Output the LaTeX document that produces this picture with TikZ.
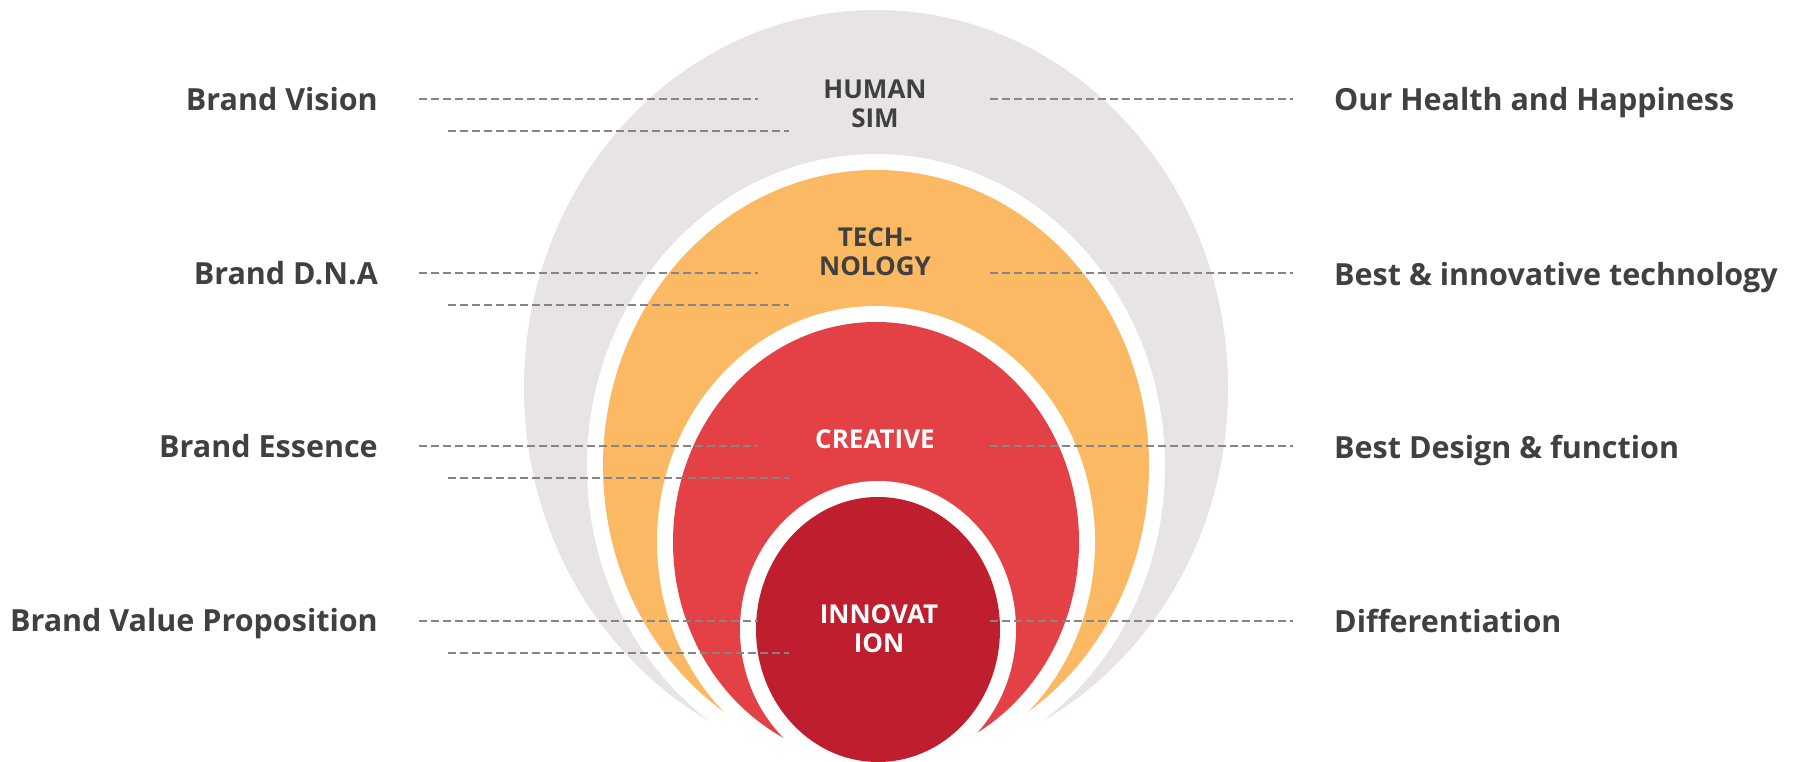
\documentclass[tikz,border=0pt]{standalone}
\usepackage{fontspec}
\setmainfont{Open Sans}
\definecolor{cgray}{HTML}{E7E4E3}
\definecolor{corange}{HTML}{FBB963}
\definecolor{cred}{HTML}{E44146}
\definecolor{cdark}{HTML}{BE1E2D}
\definecolor{ctext}{HTML}{404040}
\definecolor{cdash}{HTML}{858585}
\tikzset{
  sidelabel/.style={font=\fontsize{30.5}{34}\selectfont\bfseries, text=ctext, inner sep=0pt},
  ringlabel/.style={font=\fontsize{26}{29}\selectfont\bfseries, align=center, inner sep=0pt},
  guide/.style={draw=cdash, line width=2pt, dash pattern=on 8pt off 4pt},
}
\begin{document}
\begin{tikzpicture}[x=1pt,y=-1pt]
\useasboundingbox (0,0) rectangle (1794,762);
\clip (0,0) rectangle (1794,762);
% rings
\fill[cgray] (876,388) ellipse [x radius=352, y radius=378];
\fill[white] (876,466) ellipse [x radius=289, y radius=312];
\fill[corange] (876,466) ellipse [x radius=273, y radius=296];
\fill[white] (876,542) ellipse [x radius=219, y radius=236];
\fill[cred] (876,542) ellipse [x radius=203, y radius=220];
\fill[white] (878,629.5) ellipse [x radius=138, y radius=148.5];
\fill[cdark] (878,629.5) ellipse [x radius=122, y radius=132.5];
% guide line ends
\foreach \n/\y in {a/99,b/273,c/446,d/621}{
  \coordinate (L\n1) at (419,\y);
  \coordinate (L\n2) at (758,\y);
  \coordinate (M\n1) at (448,\y+32);
  \coordinate (M\n2) at (789,\y+32);
  \coordinate (R\n1) at (990,\y);
  \coordinate (R\n2) at (1293,\y);
}
\foreach \n in {a,b,c,d}{
  \draw[guide] (L\n1) -- (L\n2);
  \draw[guide] (M\n1) -- (M\n2);
  \draw[guide] (R\n1) -- (R\n2);
}
% side labels
\node[sidelabel, anchor=base east] (lv) at (378,110.5) {Brand Vision};
\node[sidelabel, anchor=base east] (ld) at (378,284.5) {Brand D.N.A};
\node[sidelabel, anchor=base east] (le) at (378,457.5) {Brand Essence};
\node[sidelabel, anchor=base east] (lp) at (378,631) {Brand Value Proposition};
\node[sidelabel, anchor=base west] (rv) at (1334,111) {Our Health and Happiness};
\node[sidelabel, anchor=base west] (rd) at (1334,285) {Best \& innovative technology};
\node[sidelabel, anchor=base west] (re) at (1334,458) {Best Design \& function};
\node[sidelabel, anchor=base west] (rp) at (1334,632) {Differentiation};
% ring labels (base = baseline of last line)
\node[ringlabel, text=ctext, anchor=base] (human) at (875,128) {HUMAN\\SIM};
\node[ringlabel, text=ctext, anchor=base] (tech) at (875,276) {TECH-\\NOLOGY};
\node[ringlabel, text=white, anchor=base] (creative) at (875,448) {CREATIVE};
\node[ringlabel, text=white, anchor=base] (innov) at (879,652) {INNOVAT\\ION};
\end{tikzpicture}
\end{document}
